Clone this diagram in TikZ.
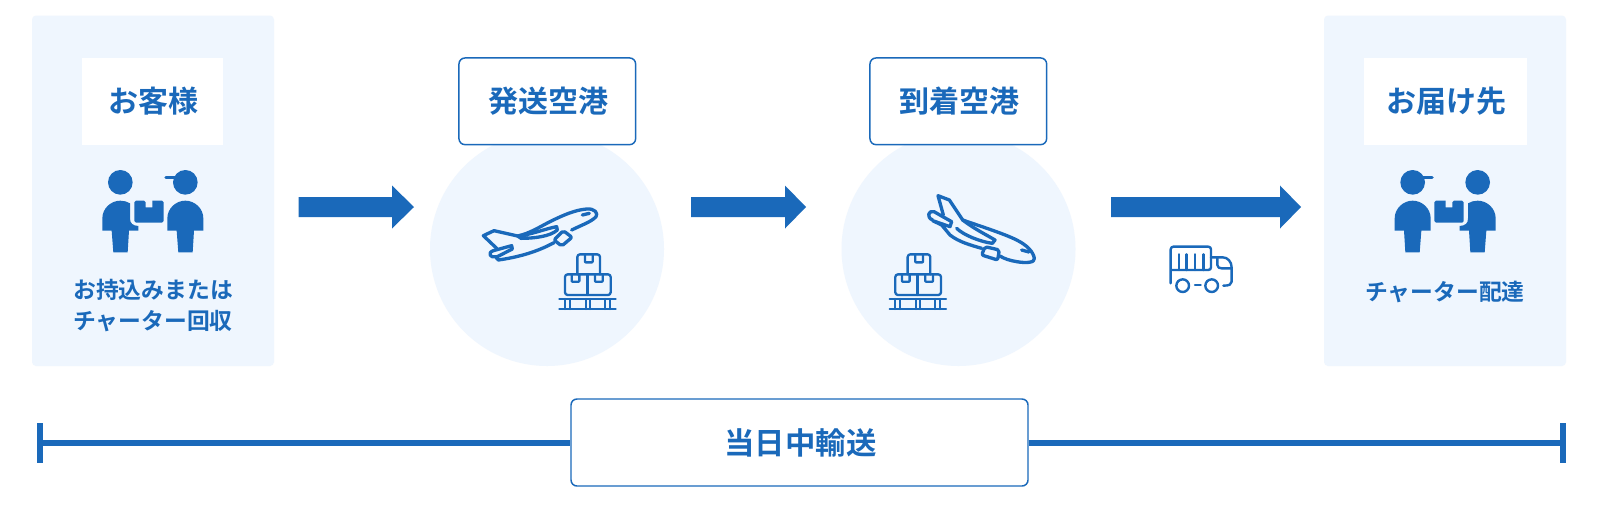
\documentclass[tikz,border=0pt]{standalone}
\usepackage{fontspec}
\setmainfont{Noto Sans CJK JP Bold}
\definecolor{brand}{HTML}{1A69BA}
\definecolor{pale}{HTML}{EFF6FE}
\tikzset{
  panel/.style={fill=pale,rounded corners=3},
  whitebox/.style={fill=white,inner sep=0},
  framebox/.style={draw=brand,line width=1.1pt,fill=white,rounded corners=4.5,inner sep=0},
  bigt/.style={text=brand,font=\fontsize{22.5}{26}\selectfont,inner sep=0},
  smallt/.style={text=brand,font=\fontsize{17.1}{23}\selectfont,inner sep=0,align=center},
  flow/.style={fill=brand},
  line/.style={draw=brand,line width=1.75pt,line join=round,line cap=round},
  planeline/.style={line,line width=2.5pt},
  bar/.style={draw=brand,line width=4.5pt},
  spot/.style={fill=pale,circle,inner sep=0,minimum size=175.5pt},
}
\newcommand{\peopleicon}{%
  \fill[brand] (271,97) circle (37);
  \fill[brand] (466,97) circle (37);
  \draw[brand,line width=2.6pt,line cap=round] (408,82) -- (440,82);
  \fill[brand] (217,242) -- (217,205) .. controls (217,175) and (243,152) .. (271,152)
     .. controls (282,152) and (292,155) .. (300,160) -- (300,205) .. controls (300,220) and (308,227) .. (325,228)
     -- (325,242) -- (297,242) -- (293,307) -- (250,307) -- (245,242) -- cycle;
  \fill[brand] (520,242) -- (520,205) .. controls (520,175) and (494,152) .. (466,152)
     .. controls (438,152) and (412,175) .. (412,205) -- (412,242) -- (440,242) -- (445,307) -- (488,307) -- (492,242) -- cycle;
  \fill[brand,rounded corners=1.2pt] (313,152) -- (347,152) [sharp corners] -- (347,172) -- (367,172) -- (367,152) [rounded corners=1.2pt] -- (401,152) -- (401,218) -- (313,218) -- cycle;
}
\newcommand{\parcels}{%
  \begin{scope}[line,rounded corners=2pt]
    \draw (345,345) -- (345,283) -- (482,283) -- (482,345) -- cycle;
    \draw[sharp corners] (412,283) -- (412,345);
    \draw (382,283) -- (382,223) -- (450,223) -- (450,283);
    \draw[rounded corners=.5pt] (365,283) -- (365,305) -- (388,305) -- (388,283);
    \draw[rounded corners=.5pt] (435,283) -- (435,305) -- (458,305) -- (458,283);
    \draw[rounded corners=.5pt] (405,223) -- (405,247) -- (428,247) -- (428,223);
  \end{scope}
  \begin{scope}[line,line width=1.7pt]
    \draw (328,357) -- (497,357);
    \draw (328,387) -- (497,387);
    \foreach \px in {345,360,407,420,465,480} \draw (\px,357) -- (\px,387);
  \end{scope}
}
\begin{document}
\begin{tikzpicture}[x=.75pt,y=-.75pt]
\useasboundingbox (0,0) rectangle (1598,508);
\fill[white] (0,0) rectangle (1598,508);
% panels
\fill[panel] (32,15.5) rectangle (274,366);
\fill[panel] (1324,15.5) rectangle (1566,366);
\node[spot] (c1) at (547,249) {};
\node[spot] (c2) at (958.5,249) {};
% label boxes
\node[whitebox,minimum width=106pt,minimum height=65.25pt] (kbox) at (152.5,101.5) {};
\node[bigt] (k) at (153.5,101) {お客様};
\node[whitebox,minimum width=122pt,minimum height=65.25pt] (tbox) at (1445.5,101.5) {};
\node[bigt] (t) at (1446,101) {お届け先};
\node[framebox,minimum width=132.5pt,minimum height=65pt] (a1) at (547.3,101.3) {};
\node[bigt] (a1t) at (548,101) {発送空港};
\node[framebox,minimum width=132.5pt,minimum height=65pt] (a2) at (958.3,101.3) {};
\node[bigt] (a2t) at (959,101) {到着空港};
% flow arrows
\fill[flow] (298.5,197) -- (392,197) -- (392,185.5) -- (414,207) -- (392,228.5) -- (392,217) -- (298.5,217) -- cycle;
\fill[flow] (691,197) -- (785,197) -- (785,185.5) -- (806,207) -- (785,228.5) -- (785,217) -- (691,217) -- cycle;
\fill[flow] (1111,197) -- (1280,197) -- (1280,185.5) -- (1301,207) -- (1280,228.5) -- (1280,217) -- (1111,217) -- cycle;
% people
\begin{scope}[shift={(30,150)},xscale=1/3,yscale=1/3]\peopleicon\end{scope}
\begin{scope}[shift={(1568,150)},xscale=-1/3,yscale=1/3]\peopleicon\end{scope}
\node[smallt] (s1) at (153,305.5) {お持込みまたは\\チャーター回収};
\node[smallt] (s2) at (1445,291.5) {チャーター配達};
% plane 1
\begin{scope}[shift={(450,180)},xscale=1/3,yscale=1/3]
  \begin{scope}[planeline]
  \draw (140,205) -- (100,167) -- (132,152) -- (203,168) .. controls (240,160) and (270,140) .. (300,125)
     .. controls (340,105) and (375,90) .. (410,87) .. controls (435,85) and (445,100) .. (438,110)
     .. controls (425,125) and (395,135) .. (365,150);
  \draw (312,188) .. controls (280,205) and (230,228) .. (145,240) -- (138,232) -- (187,207) -- (185,197) -- (130,212) .. controls (112,218) and (120,235) .. (138,230);
  \draw (203,168) .. controls (240,165) and (290,145) .. (320,140) -- (322,150) .. controls (300,170) and (250,175) .. (213,175) -- cycle;
  \draw[rounded corners=1.5pt] (340,152) -- (366,172) -- (335,198) -- (312,180) -- cycle;
  \draw (397,105) -- (418,100);
  \end{scope}
  \parcels
\end{scope}
% plane 2
\begin{scope}[shift={(860,180)},xscale=1/3,yscale=1/3]
  \begin{scope}[planeline]
  \draw (250,105) -- (234,47) -- (268,60) -- (308,120) .. controls (350,135) and (430,160) .. (470,180)
     .. controls (500,195) and (520,215) .. (523,235) .. controls (525,248) and (500,250) .. (470,245) .. controls (450,242) and (430,235) .. (420,228);
  \draw (365,205) .. controls (330,195) and (295,185) .. (270,165) -- (245,135) -- (218,122) -- (270,140) -- (275,125) -- (222,95) .. controls (205,90) and (198,112) .. (218,120);
  \draw (308,120) .. controls (340,145) and (380,165) .. (405,180) -- (397,190) .. controls (360,185) and (310,165) .. (290,145);
  \draw[rounded corners=1.5pt] (375,200) -- (418,210) -- (413,240) -- (365,225) -- cycle;
  \draw (485,210) -- (507,216);
  \end{scope}
\end{scope}
\begin{scope}[shift={(780.3,180)},xscale=1/3,yscale=1/3]\parcels\end{scope}
% truck
\begin{scope}[shift={(1130,225)},xscale=1/3,yscale=1/3,line,line width=1.8pt]
  \draw[rounded corners=2pt] (122,175) -- (122,65) -- (243,65) -- (243,135) -- (122,135);
  \foreach \px in {147,170,195,220} \draw (\px,88) -- (\px,135);
  \draw (158,182) circle (19);
  \draw (245,182) circle (19);
  \draw (195,180) -- (212,180);
  \draw (243,97) -- (278,97) .. controls (293,97) and (305,110) .. (305,128) -- (305,170) .. controls (305,178) and (298,182) .. (280,182);
  \draw (262,97) -- (262,120) .. controls (262,127) and (268,130) .. (275,130) -- (305,130);
\end{scope}
% time bar
\node[framebox,minimum width=342.75pt,minimum height=65.25pt] (day) at (799.5,442.5) {};
\node[bigt,font=\fontsize{22.8}{26}\selectfont] (dayt) at (800.5,442.5) {当日中輸送};
\coordinate (L) at (40.3,442.5);
\coordinate (R) at (1563,442.5);
\coordinate (La) at (40.3,423.3);
\coordinate (Lb) at (40.3,462.7);
\coordinate (Ra) at (1563,423.3);
\coordinate (Rb) at (1563,462.7);
\draw[bar] (L) -- (day);
\draw[bar] (day) -- (R);
\draw[bar] (La) -- (Lb);
\draw[bar] (Ra) -- (Rb);
\end{tikzpicture}
\end{document}
